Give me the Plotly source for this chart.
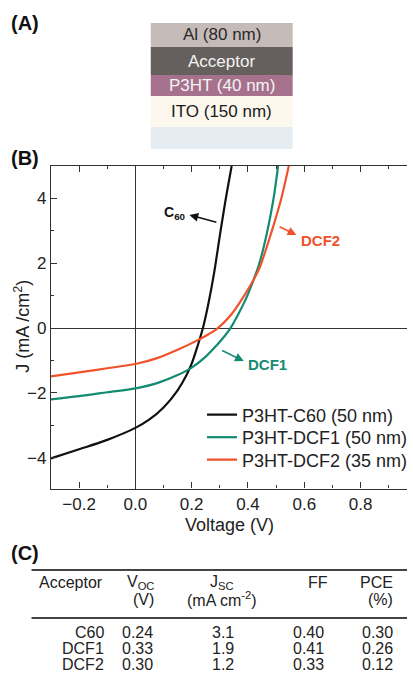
import plotly.graph_objects as go

W, H = 413, 681
FONT = "Liberation Sans, Arial, sans-serif"
INK = "#222222"

# J-V curves (V in volts, J in mA/cm2)
c60_v = [-0.30, -0.20, -0.10, 0.00, 0.05, 0.10, 0.15, 0.18, 0.20, 0.22, 0.24, 0.26, 0.28, 0.30, 0.32, 0.342]
c60_j = [-4.02, -3.74, -3.45, -3.08, -2.82, -2.45, -1.92, -1.48, -1.10, -0.58, 0.00, 0.78, 1.72, 2.85, 3.93, 5.00]

dcf1_v = [-0.30, -0.20, -0.10, 0.00, 0.08, 0.15, 0.20, 0.25, 0.29, 0.315, 0.338, 0.365, 0.391, 0.42, 0.44, 0.467, 0.49, 0.507]
dcf1_j = [-2.20, -2.10, -1.98, -1.86, -1.69, -1.45, -1.22, -0.88, -0.52, -0.27, 0.00, 0.42, 0.87, 1.49, 1.98, 2.92, 3.95, 5.00]

dcf2_v = [-0.30, -0.20, -0.10, 0.00, 0.08, 0.15, 0.22, 0.26, 0.293, 0.34, 0.377, 0.42, 0.443, 0.482, 0.517, 0.545]
dcf2_j = [-1.49, -1.37, -1.24, -1.11, -0.92, -0.67, -0.38, -0.19, 0.00, 0.41, 0.87, 1.49, 1.90, 2.92, 3.95, 5.00]

series_names = ["P3HT-C60 (50 nm)", "P3HT-DCF1 (50 nm)", "P3HT-DCF2 (35 nm)"]
series_colors = ["#111111", "#138a72", "#f0522a"]

# device stack (panel A)
layer_names = ["Al (80 nm)", "Acceptor", "P3HT (40 nm)", "ITO (150 nm)", ""]
layer_colors = ["#c5bbb9", "#65605e", "#a6718c", "#fcf8ee", "#e5edf3"]
layer_text_colors = ["#2a2a2a", "#f4f4f4", "#f4f4f4", "#1a1a1a", INK]
layer_edges = [23, 47, 75, 96, 127, 149]   # pixel rows

# table (panel C)
tbl_acceptor = ["C60", "DCF1", "DCF2"]
tbl_voc = ["0.24", "0.33", "0.30"]
tbl_jsc = ["3.1", "1.9", "1.2"]
tbl_ff = ["0.40", "0.41", "0.33"]
tbl_pce = ["0.30", "0.26", "0.12"]


def px(x):
    return x / W


def py(y):
    return 1 - y / H


def label(x, y, text, size, color=INK, xanchor="center", **kw):
    return dict(xref="paper", yref="paper", x=px(x), y=py(y), text=text, showarrow=False,
                xanchor=xanchor, yanchor="middle",
                font=dict(family=FONT, size=size, color=color), **kw)


fig = go.Figure()
legend_ids = ["legend", "legend2", "legend3"]
for v, j, name, col, lg in zip([c60_v, dcf1_v, dcf2_v], [c60_j, dcf1_j, dcf2_j],
                               series_names, series_colors, legend_ids):
    fig.add_trace(go.Scatter(x=v, y=j, mode="lines", name=name, legend=lg, showlegend=True,
                             line=dict(color=col, width=2.2, shape="spline", smoothing=0.9)))

shapes = []
ann = []

# panel A stack
for i, (nm, c, tc) in enumerate(zip(layer_names, layer_colors, layer_text_colors)):
    shapes.append(dict(type="rect", xref="paper", yref="paper",
                       x0=px(153), x1=px(297), y0=py(layer_edges[i + 1]), y1=py(layer_edges[i]),
                       fillcolor=c, line=dict(width=0), layer="below"))
    if nm:
        ann.append(label(225, (layer_edges[i] + layer_edges[i + 1]) / 2, nm, 17, tc))

# panel labels
for lab, yy in [("(A)", 23), ("(B)", 158), ("(C)", 553)]:
    ann.append(label(9, yy, "<b>%s</b>" % lab, 20, "#111111", xanchor="left"))

# axis titles
ann.append(label(233, 525, "Voltage (V)", 18))
ann.append(label(23, 326, "J (mA /cm<sup>2</sup>)", 18, textangle=-90))

# curve labels with arrows
arrows = [(0.192, 3.49, 0.293, 3.25, "#111111"),
          (0.572, 2.87, 0.507, 3.15, series_colors[2]),
          (0.385, -1.02, 0.303, -0.67, series_colors[1])]
for x, y, ax, ay, col in arrows:
    ann.append(dict(x=x, y=y, ax=ax, ay=ay, xref="x", yref="y", axref="x", ayref="y",
                    text="", showarrow=True, arrowhead=2, arrowsize=1.1, arrowwidth=1.6,
                    arrowcolor=col, standoff=0, startstandoff=0))
ann.append(dict(x=0.139, y=3.55, xref="x", yref="y", text="<b>C<sub>60</sub></b>", showarrow=False,
                xanchor="center", yanchor="middle", font=dict(family=FONT, size=14, color="#111111")))
ann.append(dict(x=0.656, y=2.69, xref="x", yref="y", text="<b>DCF2</b>", showarrow=False,
                xanchor="center", yanchor="middle", font=dict(family=FONT, size=15, color=series_colors[2])))
ann.append(dict(x=0.468, y=-1.13, xref="x", yref="y", text="<b>DCF1</b>", showarrow=False,
                xanchor="center", yanchor="middle", font=dict(family=FONT, size=15, color=series_colors[1])))

# panel C table
for yy in [570, 618]:
    shapes.append(dict(type="line", xref="paper", yref="paper", x0=px(32), x1=1, y0=py(yy), y1=py(yy),
                       line=dict(color="#444444", width=2)))
TS = 16
hdr = [(72, "center", "Acceptor", ""),
       (158, "right", "V<sub>OC</sub>", "(V)"),
       (225, "center", "J<sub>SC</sub>", "(mA cm<sup>-2</sup>)"),
       (335, "right", "FF", ""),
       (401, "right", "PCE", "(%)")]
for x, anc, t1, t2 in hdr:
    ann.append(label(x, 582, t1, TS, xanchor=anc))
    if t2:
        ann.append(label(x, 599, t2, TS, xanchor=anc))
row_y = [632, 648, 664]
cols = [(108, "right", tbl_acceptor), (157, "right", tbl_voc), (226, "center", tbl_jsc),
        (313, "center", tbl_ff), (401, "right", tbl_pce)]
for x, anc, vals in cols:
    for yy, t in zip(row_y, vals):
        ann.append(label(x, yy, t, TS, xanchor=anc))

axis_common = dict(showline=True, linecolor="#333333", linewidth=1.3, showgrid=False,
                   ticks="inside", tickcolor="#333333", tickwidth=1.2, automargin=False,
                   zeroline=True, zerolinecolor="#333333", zerolinewidth=1.3,
                   tickfont=dict(family=FONT, size=17, color=INK))

legend_rows = [415, 437.5, 460]
legends = {}
for lg, yy in zip(legend_ids, legend_rows):
    legends[lg] = dict(x=px(205), y=py(yy), xanchor="left", yanchor="middle",
                       bgcolor="rgba(0,0,0,0)", font=dict(family=FONT, size=18, color=INK))

fig.update_layout(
    width=W, height=H, margin=dict(l=0, r=0, t=0, b=0),
    paper_bgcolor="white", plot_bgcolor="white", showlegend=True,
    font=dict(family=FONT, color=INK),
    xaxis=dict(range=[-0.3, 0.965], domain=[px(51.7), 1.0], tick0=0, dtick=0.2, ticklen=6,
               tickformat=".1f", mirror="ticks",
               minor=dict(dtick=0.1, ticks="inside", ticklen=3, tickcolor="#333333"),
               **axis_common),
    yaxis=dict(range=[-4.95, 5.0], domain=[py(488.5), py(166)], tick0=0, dtick=2, ticklen=6,
               minor=dict(dtick=1, ticks="inside", ticklen=3, tickcolor="#333333"),
               **axis_common),
    shapes=shapes, annotations=ann,
    **legends,
)

fig.write_html("out.html", config={"displayModeBar": False},
               post_script="document.body.style.margin='0';document.body.style.overflow='hidden';")
